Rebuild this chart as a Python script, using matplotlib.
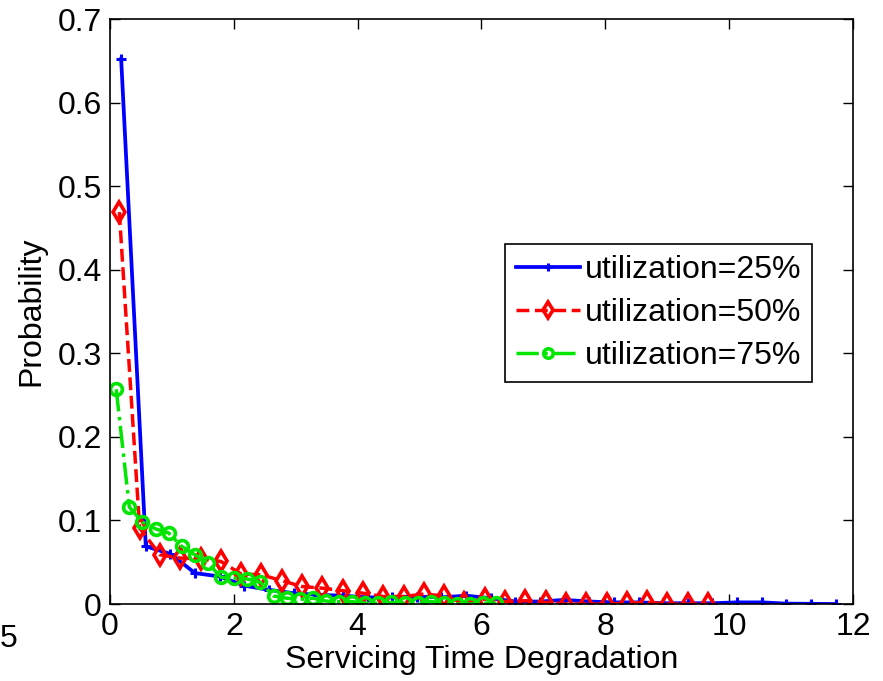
import matplotlib
matplotlib.use("Agg")
import matplotlib.pyplot as plt
import numpy as np

plt.rcParams['font.family'] = ['Liberation Sans', 'DejaVu Sans']

# utilization = 25%
x25 = np.linspace(0.18, 11.72, 30)
p25 = [0.652, 0.069, 0.060, 0.037, 0.033, 0.022, 0.017, 0.013, 0.011, 0.010,
       0.008, 0.008, 0.009, 0.008, 0.010, 0.007, 0.003, 0.003, 0.005, 0.003,
       0.002, 0.002, 0.001, 0.001, 0.001, 0.002, 0.002, 0.0005, 0.0003, 0.0]

# utilization = 50%
x50 = np.linspace(0.15, 9.66, 30)
p50 = [0.469, 0.091, 0.059, 0.055, 0.054, 0.051, 0.036, 0.035, 0.028, 0.021,
       0.019, 0.016, 0.013, 0.009, 0.009, 0.012, 0.0096, 0.001, 0.006, 0.003,
       0.004, 0.002, 0.0, 0.0, 0.0, 0.001, 0.002, 0.0, 0.0, 0.0]

# utilization = 75%
x75 = np.linspace(0.10, 6.24, 30)
p75 = [0.257, 0.116, 0.098, 0.090, 0.085, 0.069, 0.059, 0.049, 0.032, 0.031,
       0.030, 0.026, 0.0096, 0.007, 0.0056, 0.007, 0.0035, 0.0028, 0.0028, 0.001,
       0.001, 0.002, 0.001, 0.001, 0.003, 0.001, 0.0, 0.0, 0.001, 0.001]

labels = ['utilization=25%', 'utilization=50%', 'utilization=75%']

fs = 23

fig = plt.figure(figsize=(8.83, 6.81), dpi=100)
ax = fig.add_axes([0.1246, 0.113, 0.8414, 0.859])

ax.plot(x25, p25, color='blue', linestyle='-', linewidth=2.7,
        marker='+', markersize=7, markeredgewidth=2.2, label=labels[0])
ax.plot(x50, p50, color='red', linestyle='--', linewidth=2.5,
        marker='d', markersize=10, markerfacecolor='none', markeredgewidth=2.6,
        label=labels[1])
ax.plot(x75, p75, color=(0, 0.9, 0), linestyle='-.', linewidth=2.5,
        marker='o', markersize=8.5, markerfacecolor='none', markeredgewidth=2.6,
        label=labels[2])

ax.set_xlim(0, 12)
ax.set_ylim(0, 0.7)
ax.set_xticks(np.arange(0, 13, 2))
ax.set_yticks(np.arange(0, 0.71, 0.1))
ax.set_yticklabels(['0', '0.1', '0.2', '0.3', '0.4', '0.5', '0.6', '0.7'])
ax.tick_params(direction='in', length=7, width=1, top=True, right=True,
               labelsize=fs, pad=6)
for s in ax.spines.values():
    s.set_linewidth(1.2)

ax.set_xlabel('Servicing Time Degradation', fontsize=fs, labelpad=2)
ax.set_ylabel('Probability', fontsize=fs, labelpad=8)

leg = ax.legend(loc='upper right', bbox_to_anchor=(0.945, 0.615),
                borderaxespad=0, fontsize=fs, fancybox=False, framealpha=1,
                edgecolor='black', handlelength=2.0, handletextpad=0.15,
                labelspacing=0.4, borderpad=0.35, markerscale=0.8)
leg.get_frame().set_linewidth(1.2)

# fragment of neighbouring figure
fig.text(0.0, 0.04, '5', fontsize=fs, ha='left', va='bottom')

fig.savefig('out.png', dpi=100)
